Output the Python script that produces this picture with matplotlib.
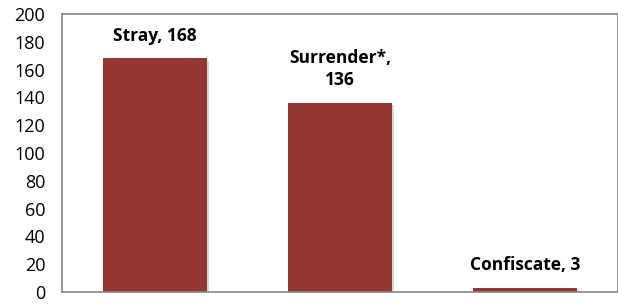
import matplotlib
matplotlib.use("Agg")
import matplotlib.pyplot as plt
import matplotlib.patheffects as pe

categories = ["Stray", "Surrender*", "Confiscate"]
values = [168, 136, 3]
labels = ["Stray, 168", "Surrender*,\n136", "Confiscate, 3"]
yticks = [0, 20, 40, 60, 80, 100, 120, 140, 160, 180, 200]

plt.rcParams['font.family'] = ['Open Sans', 'DejaVu Sans']

fig = plt.figure(figsize=(6.18, 3.04), dpi=100)
ax = fig.add_axes([62/618, 12/304, 556/618, 278/304])

x = list(range(len(categories)))
bars = ax.bar(x, values, width=0.56, color="#943634", edgecolor="none",
              path_effects=[pe.SimplePatchShadow(offset=(1.5, -1.5), shadow_rgbFace="#b0b0b0", alpha=0.5), pe.Normal()])

ax.set_xlim(-0.5, 2.5)
ax.set_ylim(0, 200)
ax.set_yticks(yticks)
ax.set_yticklabels([str(t) for t in yticks], fontsize=13, color="#000000")
ax.tick_params(axis='y', length=0, pad=12)
ax.set_xticks([])
for s in ['top', 'right', 'left', 'bottom']:
    ax.spines[s].set_color('#868686')
    ax.spines[s].set_linewidth(1.2)

for xi, v, lab in zip(x, values, labels):
    ax.annotate(lab, (xi, v), xytext=(0, 10), textcoords='offset points',
                ha='center', va='bottom', fontsize=12.5, fontweight='bold',
                linespacing=1.3)

fig.savefig("out.png", dpi=100)
